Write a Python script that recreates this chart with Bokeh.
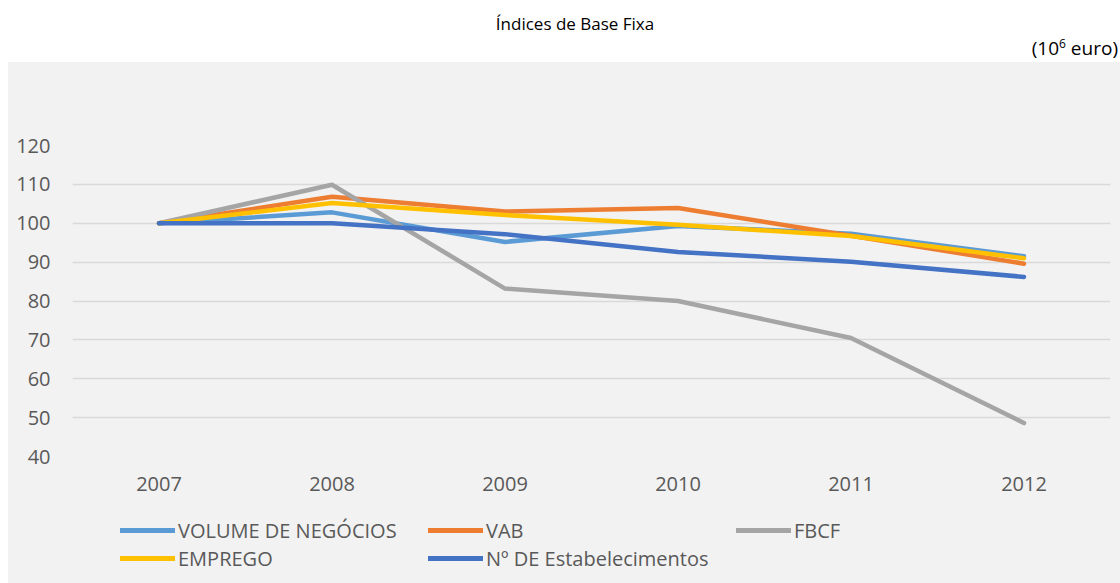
from bokeh.plotting import figure
from bokeh.models import (ColumnDataSource, Range1d, FactorRange, Legend, LegendItem, Div)
from bokeh.layouts import column
from bokeh.embed import file_html
from bokeh.resources import INLINE

# ---- data ----
years = ["2007", "2008", "2009", "2010", "2011", "2012"]
volume_negocios = [100, 102.8, 95.2, 99.3, 97.3, 91.5]
vab = [100, 106.8, 103.0, 103.9, 96.8, 89.6]
fbcf = [100, 109.9, 83.2, 80.0, 70.5, 48.6]
emprego = [100, 105.2, 102.1, 99.6, 96.7, 91.0]
estabelecimentos = [100, 100.0, 97.2, 92.6, 90.1, 86.2]

series_names = ["VOLUME DE NEGÓCIOS", "VAB", "FBCF", "EMPREGO", "Nº DE Estabelecimentos"]
series_values = [volume_negocios, vab, fbcf, emprego, estabelecimentos]
series_colors = ["#5B9BD5", "#ED7D31", "#A5A5A5", "#FFC000", "#4472C4"]

y_ticks = [40, 50, 60, 70, 80, 90, 100, 110, 120]

FONT = "Open Sans"
GREY_BG = "#F2F2F2"
W = 1112

# ---- header (title + unit) ----
header = Div(
    text=(
        '<div style="position:relative;width:1112px;height:62px;font-family:\'Open Sans\';">'
        '<div style="position:absolute;left:567px;top:12px;transform:translateX(-50%);'
        'font-size:17px;line-height:24px;color:#000;white-space:nowrap;">Índices de Base Fixa</div>'
        '<div style="position:absolute;right:2px;top:36px;font-size:19px;line-height:24px;color:#000;'
        'white-space:nowrap;">(10<sup style="font-size:12px;line-height:0;">6</sup> euro)</div>'
        '</div>'
    ),
    width=W, height=62, margin=(0, 0, 0, 0),
)

# ---- chart ----
p = figure(
    x_range=FactorRange(*years, range_padding=0),
    y_range=Range1d(40, 120),
    width=W, height=443,
    output_backend="svg", toolbar_location=None,
    min_border_left=64, min_border_right=10,
    min_border_top=83, min_border_bottom=49,
    background_fill_color=None, border_fill_color=None,
    outline_line_color=None,
    styles={"background-color": GREY_BG},
)
p.margin = (0, 0, 0, 0)

src = ColumnDataSource(dict(x=years, **{f"s{i}": v for i, v in enumerate(series_values)}))

for i, col in enumerate(series_colors):
    p.line("x", f"s{i}", source=src, line_color=col, line_width=4.5,
           line_cap="round", line_join="round")

# axes
p.yaxis.ticker = y_ticks
for ax in (p.xaxis[0], p.yaxis[0]):
    ax.axis_line_color = None
    ax.major_tick_line_color = None
    ax.minor_tick_line_color = None
    ax.major_tick_in = 0
    ax.major_tick_out = 0
    ax.minor_tick_out = 0
    ax.major_label_text_font = FONT
    ax.major_label_text_font_size = "20px"
    ax.major_label_text_color = "#595959"
p.xaxis.major_label_standoff = 20
p.yaxis.major_label_standoff = 22

p.xgrid.grid_line_color = None
p.ygrid.grid_line_color = "#D9D9D9"
p.ygrid.grid_line_width = 1.5

# ---- legend strip (same grey panel, below the chart) ----
lg = figure(
    x_range=Range1d(0, 1), y_range=Range1d(0, 1),
    width=W, height=78,
    x_axis_location=None, y_axis_location=None,
    output_backend="svg", toolbar_location=None,
    min_border=0,
    background_fill_color=None, border_fill_color=None,
    outline_line_color=None,
    styles={"background-color": GREY_BG},
)
lg.margin = (0, 0, 0, 0)
lg.grid.visible = False

# legend-only renderers: points placed outside the visible range
hidden = ColumnDataSource(dict(x=[5, 6], y=[5, 6]))
items = []
for name, col in zip(series_names, series_colors):
    r = lg.line("x", "y", source=hidden, line_color=col, line_width=5, line_cap="round")
    items.append(LegendItem(label=name, renderers=[r]))

legend = Legend(
    items=items, orientation="horizontal", ncols=3,
    location=(48, 11),
    label_text_font=FONT, label_text_font_size="20px", label_text_color="#595959",
    glyph_width=55, glyph_height=28, label_height=28, label_width=250,
    label_standoff=3, spacing=0, padding=0, margin=0,
    background_fill_alpha=0, border_line_color=None,
)
lg.add_layout(legend, "center")

layout = column(header, p, lg, spacing=0)
layout.margin = (0, 0, 0, 8)

open("out.html", "w").write(file_html(layout, INLINE))
